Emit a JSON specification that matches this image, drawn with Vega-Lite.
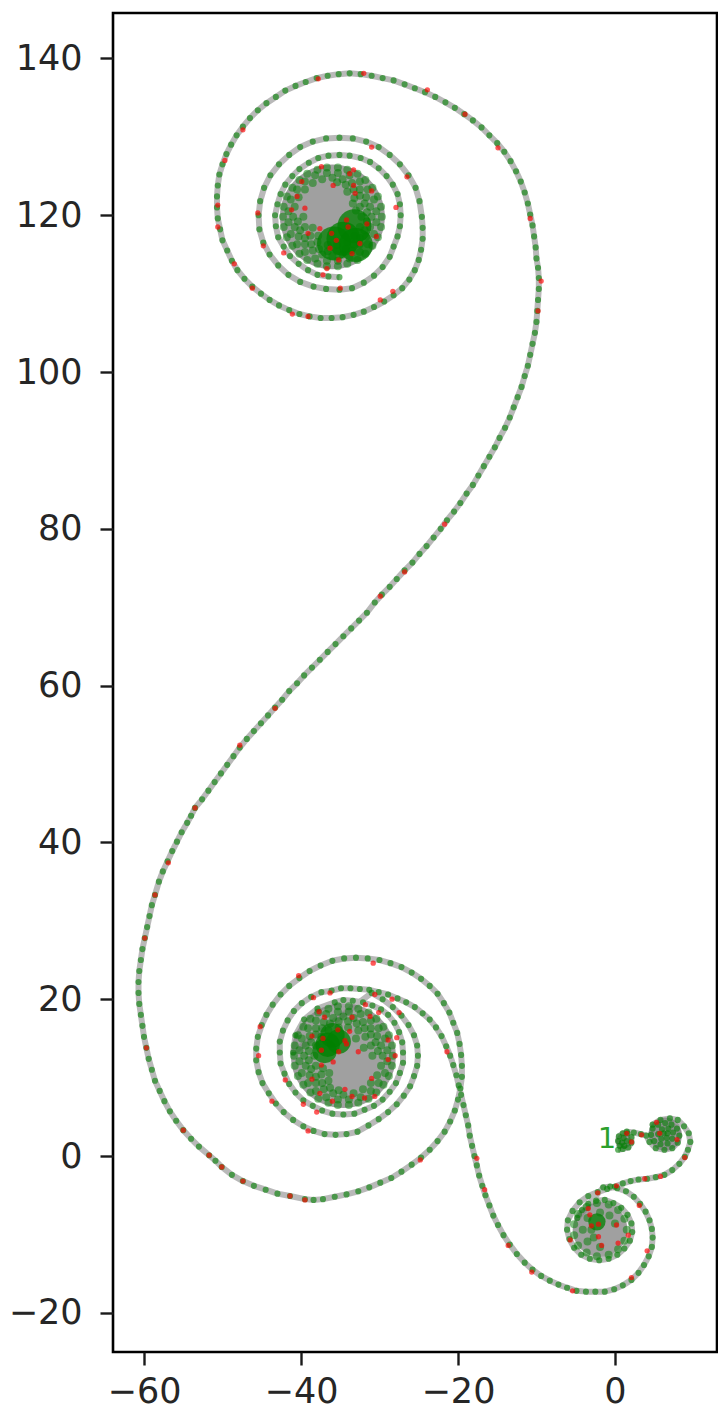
{"$schema":"https://vega.github.io/schema/vega-lite/v6.json","width":604,"height":1339,"autosize":"none","padding":{"left":113,"top":13,"right":1,"bottom":62},"background":"white","config":{"font":"DejaVu Sans","view":{"stroke":"#000000","strokeWidth":2.6},"axis":{"grid":false,"domain":false,"ticks":true,"tickColor":"#1a1a1a","tickWidth":2.4,"tickSize":13,"labelFontSize":35,"labelColor":"#262626","title":null,"labelFont":"DejaVu Sans","labelOverlap":false}},"datasets":{"curve":[{"x":0.4,"y":0.8},{"x":1.0,"y":0.9},{"x":1.7,"y":1.1},{"x":2.1,"y":1.7},{"x":2.1,"y":2.4},{"x":1.6,"y":2.9},{"x":1.0,"y":2.9},{"x":0.5,"y":2.5},{"x":0.4,"y":1.9},{"x":0.6,"y":1.3},{"x":1.2,"y":1.3},{"x":1.5,"y":1.9},{"x":1.1,"y":2.3},{"x":0.9,"y":1.7},{"x":1.5,"y":3.1},{"x":2.4,"y":3.0},{"x":3.3,"y":2.8},{"x":4.0,"y":2.6},{"x":4.4,"y":1.8},{"x":5.2,"y":1.0},{"x":6.3,"y":0.8},{"x":7.3,"y":1.0},{"x":8.0,"y":1.7},{"x":8.2,"y":2.6},{"x":7.9,"y":3.5},{"x":7.2,"y":4.0},{"x":6.4,"y":4.2},{"x":5.5,"y":4.0},{"x":4.8,"y":3.5},{"x":4.6,"y":2.7},{"x":5.0,"y":1.9},{"x":5.8,"y":1.5},{"x":6.7,"y":1.6},{"x":7.3,"y":2.2},{"x":7.4,"y":3.0},{"x":6.8,"y":3.5},{"x":6.0,"y":3.4},{"x":5.5,"y":2.8},{"x":5.9,"y":2.2},{"x":6.6,"y":2.3},{"x":6.7,"y":2.9},{"x":6.2,"y":2.9},{"x":4.8,"y":4.0},{"x":5.8,"y":4.6},{"x":7.0,"y":4.8},{"x":8.0,"y":4.6},{"x":8.8,"y":3.8},{"x":9.4,"y":2.9},{"x":9.6,"y":1.8},{"x":9.3,"y":0.8},{"x":8.9,"y":-0.1},{"x":8.2,"y":-1.0},{"x":7.3,"y":-1.8},{"x":6.3,"y":-2.4},{"x":5.2,"y":-2.7},{"x":4.1,"y":-2.9},{"x":3.0,"y":-3.0},{"x":2.0,"y":-3.2},{"x":1.0,"y":-3.5},{"x":0.0,"y":-3.9},{"x":-1.0,"y":-4.2},{"x":-2.2,"y":-4.6},{"x":-3.4,"y":-5.1},{"x":-4.5,"y":-5.9},{"x":-5.4,"y":-7.0},{"x":-6.0,"y":-8.2},{"x":-6.1,"y":-9.4},{"x":-5.8,"y":-10.6},{"x":-5.2,"y":-11.7},{"x":-4.3,"y":-12.6},{"x":-3.2,"y":-13.1},{"x":-2.0,"y":-13.3},{"x":-0.8,"y":-13.1},{"x":0.3,"y":-12.6},{"x":1.2,"y":-11.8},{"x":1.9,"y":-10.8},{"x":2.2,"y":-9.7},{"x":2.1,"y":-8.6},{"x":1.6,"y":-7.5},{"x":0.8,"y":-6.6},{"x":-0.2,"y":-6.0},{"x":-1.3,"y":-5.6},{"x":-2.4,"y":-5.7},{"x":-3.4,"y":-6.1},{"x":-4.2,"y":-6.9},{"x":-4.8,"y":-7.9},{"x":-1.5,"y":-4.0},{"x":-0.6,"y":-3.9},{"x":0.3,"y":-4.1},{"x":1.4,"y":-4.5},{"x":2.4,"y":-5.2},{"x":3.2,"y":-6.1},{"x":3.9,"y":-7.1},{"x":4.4,"y":-8.2},{"x":4.7,"y":-9.3},{"x":4.8,"y":-10.4},{"x":4.7,"y":-11.6},{"x":4.3,"y":-12.8},{"x":3.7,"y":-13.9},{"x":3.0,"y":-14.9},{"x":2.1,"y":-15.8},{"x":1.0,"y":-16.5},{"x":-0.1,"y":-17.0},{"x":-1.3,"y":-17.3},{"x":-2.5,"y":-17.3},{"x":-3.7,"y":-17.3},{"x":-4.9,"y":-17.2},{"x":-6.1,"y":-16.8},{"x":-7.2,"y":-16.4},{"x":-8.3,"y":-15.9},{"x":-9.4,"y":-15.3},{"x":-10.5,"y":-14.5},{"x":-11.5,"y":-13.6},{"x":-12.5,"y":-12.5},{"x":-13.4,"y":-11.3},{"x":-14.2,"y":-10.1},{"x":-14.9,"y":-8.8},{"x":-15.5,"y":-7.6},{"x":-16.0,"y":-6.3},{"x":-16.5,"y":-5},{"x":-16.9,"y":-3.8},{"x":-17.3,"y":-2.5},{"x":-17.6,"y":-1.2},{"x":-17.9,"y":0},{"x":-18.2,"y":1.3},{"x":-18.5,"y":2.6},{"x":-18.7,"y":3.9},{"x":-19,"y":5.2},{"x":-19.3,"y":6.5},{"x":-19.6,"y":7.8},{"x":-19.9,"y":9},{"x":-20.2,"y":10.3},{"x":-20.6,"y":11.6},{"x":-21,"y":12.8},{"x":-21.5,"y":14},{"x":-22.1,"y":15.3},{"x":-22.8,"y":16.4},{"x":-23.6,"y":17.4},{"x":-24.5,"y":18.2},{"x":-25.5,"y":19},{"x":-26.6,"y":19.6},{"x":-27.7,"y":20.1},{"x":-28.9,"y":20.6},{"x":-30.1,"y":20.9},{"x":-31.3,"y":21.2},{"x":-32.5,"y":21.3},{"x":-33.7,"y":21.4},{"x":-34.9,"y":21.4},{"x":-36.1,"y":21.1},{"x":-37.4,"y":20.9},{"x":-38.7,"y":20.3},{"x":-39.9,"y":19.5},{"x":-40.9,"y":18.5},{"x":-41.7,"y":17.3},{"x":-42.3,"y":16},{"x":-42.7,"y":14.6},{"x":-42.7,"y":13.2},{"x":-42.6,"y":11.8},{"x":-42.1,"y":10.5},{"x":-41.5,"y":9.2},{"x":-40.7,"y":8.1},{"x":-39.7,"y":7.1},{"x":-38.5,"y":6.4},{"x":-37.3,"y":5.8},{"x":-36,"y":5.4},{"x":-34.6,"y":5.3},{"x":-33.2,"y":5.4},{"x":-31.9,"y":5.9},{"x":-30.7,"y":6.4},{"x":-29.6,"y":7.2},{"x":-28.7,"y":8.2},{"x":-27.9,"y":9.3},{"x":-27.4,"y":10.6},{"x":-27,"y":11.9},{"x":-27,"y":13.2},{"x":-27.1,"y":14.5},{"x":-27.5,"y":15.8},{"x":-28.1,"y":17},{"x":-28.9,"y":18},{"x":-29.8,"y":18.7},{"x":-30.9,"y":19.2},{"x":-32.1,"y":19.6},{"x":-33.4,"y":19.8},{"x":-34.6,"y":19.9},{"x":-35.7,"y":19.6},{"x":-37.9,"y":18.8},{"x":-39.6,"y":17.4},{"x":-40.7,"y":15.4},{"x":-41,"y":13.2},{"x":-31,"y":20.8},{"x":-29.6,"y":20.0},{"x":-28.3,"y":19},{"x":-27.2,"y":17.9},{"x":-26.3,"y":16.7},{"x":-25.6,"y":15.4},{"x":-25.2,"y":14.1},{"x":-25.1,"y":12.8},{"x":-25.2,"y":11.5},{"x":-25.6,"y":10.2},{"x":-26.1,"y":8.9},{"x":-26.9,"y":7.7},{"x":-27.8,"y":6.6},{"x":-28.9,"y":5.6},{"x":-30.1,"y":4.7},{"x":-31.4,"y":3.9},{"x":-32.8,"y":3.1},{"x":-34.2,"y":2.8},{"x":-35.6,"y":2.7},{"x":-37,"y":2.8},{"x":-38.4,"y":3.2},{"x":-39.7,"y":3.8},{"x":-41,"y":4.6},{"x":-42.2,"y":5.6},{"x":-43.2,"y":6.7},{"x":-44.1,"y":8},{"x":-44.9,"y":9.3},{"x":-45.4,"y":10.7},{"x":-45.7,"y":12.2},{"x":-45.7,"y":13.7},{"x":-45.5,"y":15.2},{"x":-45,"y":16.7},{"x":-44.4,"y":18},{"x":-43.6,"y":19.3},{"x":-42.6,"y":20.6},{"x":-41.5,"y":21.7},{"x":-40.2,"y":22.7},{"x":-38.9,"y":23.6},{"x":-37.5,"y":24.3},{"x":-36,"y":24.9},{"x":-34.5,"y":25.2},{"x":-33,"y":25.3},{"x":-31.5,"y":25.2},{"x":-30,"y":25},{"x":-28.6,"y":24.6},{"x":-27.2,"y":24.1},{"x":-25.9,"y":23.4},{"x":-24.7,"y":22.6},{"x":-23.6,"y":21.7},{"x":-22.6,"y":20.7},{"x":-21.8,"y":19.5},{"x":-21.1,"y":18.3},{"x":-20.6,"y":17},{"x":-20.1,"y":15.7},{"x":-19.8,"y":14.3},{"x":-19.6,"y":12.9},{"x":-19.5,"y":11.5},{"x":-19.5,"y":10.1},{"x":-19.7,"y":8.6},{"x":-20,"y":7.2},{"x":-20.4,"y":5.8},{"x":-21,"y":4.4},{"x":-21.7,"y":3.1},{"x":-22.6,"y":1.9},{"x":-23.6,"y":0.8},{"x":-24.7,"y":-0.2},{"x":-25.9,"y":-1.1},{"x":-27.2,"y":-2},{"x":-28.5,"y":-2.8},{"x":-29.9,"y":-3.4},{"x":-31.3,"y":-4},{"x":-32.7,"y":-4.5},{"x":-34.2,"y":-4.9},{"x":-35.7,"y":-5.2},{"x":-37.2,"y":-5.5},{"x":-38.4,"y":-5.6},{"x":-39.5,"y":-5.5},{"x":-41.4,"y":-5.1},{"x":-43,"y":-4.8},{"x":-44.5,"y":-4.3},{"x":-46,"y":-3.8},{"x":-47.4,"y":-3.2},{"x":-48.8,"y":-2.4},{"x":-50.1,"y":-1.4},{"x":-50.9,"y":-0.6},{"x":-51.7,"y":0.1},{"x":-53,"y":1.2},{"x":-54,"y":2.2},{"x":-55,"y":3.3},{"x":-55.9,"y":4.5},{"x":-56.7,"y":5.7},{"x":-57.4,"y":7},{"x":-58,"y":8.3},{"x":-58.6,"y":9.6},{"x":-59,"y":11},{"x":-59.4,"y":12.4},{"x":-59.7,"y":13.8},{"x":-60,"y":15.2},{"x":-60.2,"y":16.6},{"x":-60.4,"y":18},{"x":-60.6,"y":19.4},{"x":-60.7,"y":20.8},{"x":-60.7,"y":22.2},{"x":-60.6,"y":23.6},{"x":-60.4,"y":25},{"x":-60.2,"y":26.4},{"x":-59.9,"y":27.8},{"x":-59.6,"y":29.2},{"x":-59.3,"y":30.6},{"x":-59,"y":32},{"x":-58.6,"y":33.3},{"x":-58.1,"y":35},{"x":-57.6,"y":36.3},{"x":-57,"y":37.6},{"x":-56.4,"y":38.9},{"x":-55.8,"y":40.1},{"x":-55.2,"y":41.3},{"x":-54.5,"y":42.5},{"x":-54,"y":43.4},{"x":-53.5,"y":44.4},{"x":-52.6,"y":45.5},{"x":-51.8,"y":46.6},{"x":-51,"y":47.7},{"x":-50.2,"y":48.8},{"x":-49.4,"y":49.9},{"x":-48.6,"y":51},{"x":-47.8,"y":52.1},{"x":-46.9,"y":53.2},{"x":-46,"y":54.2},{"x":-45.1,"y":55.2},{"x":-44.2,"y":56.2},{"x":-43.3,"y":57.2},{"x":-42.4,"y":58.2},{"x":-41.5,"y":59.3},{"x":-40.5,"y":60.3},{"x":-39.6,"y":61.3},{"x":-38.6,"y":62.3},{"x":-37.6,"y":63.3},{"x":-36.6,"y":64.3},{"x":-35.6,"y":65.3},{"x":-34.6,"y":66.3},{"x":-33.6,"y":67.3},{"x":-32.6,"y":68.3},{"x":-31.6,"y":69.3},{"x":-30.6,"y":70.6},{"x":-29.7,"y":71.6},{"x":-28.7,"y":72.6},{"x":-27.8,"y":73.6},{"x":-26.8,"y":74.7},{"x":-25.8,"y":75.7},{"x":-24.9,"y":76.8},{"x":-24,"y":77.8},{"x":-23.1,"y":78.9},{"x":-22.2,"y":80},{"x":-21.4,"y":81.1},{"x":-20.5,"y":82.2},{"x":-19.7,"y":83.3},{"x":-18.9,"y":84.5},{"x":-18.1,"y":85.6},{"x":-17.4,"y":86.8},{"x":-16.7,"y":88},{"x":-16,"y":89.2},{"x":-15.3,"y":90.4},{"x":-14.7,"y":91.6},{"x":-14,"y":92.9},{"x":-13.4,"y":94.2},{"x":-12.9,"y":95.5},{"x":-12.4,"y":96.8},{"x":-11.9,"y":98.1},{"x":-11.5,"y":99.5},{"x":-11.1,"y":100.8},{"x":-10.8,"y":102.2},{"x":-10.5,"y":103.6},{"x":-10.2,"y":105},{"x":-10,"y":106.4},{"x":-9.9,"y":107.8},{"x":-9.8,"y":109.2},{"x":-9.7,"y":110.6},{"x":-9.7,"y":112},{"x":-9.8,"y":113.3},{"x":-10,"y":114.5},{"x":-10.1,"y":115.9},{"x":-10.3,"y":117.3},{"x":-10.5,"y":118.7},{"x":-10.8,"y":120.1},{"x":-11.1,"y":121.5},{"x":-11.5,"y":122.9},{"x":-12,"y":124.3},{"x":-12.6,"y":125.6},{"x":-13.3,"y":126.9},{"x":-14.1,"y":128.1},{"x":-15,"y":129.2},{"x":-16,"y":130.2},{"x":-17,"y":131.2},{"x":-18.1,"y":132.1},{"x":-19.2,"y":132.9},{"x":-20.4,"y":133.7},{"x":-21.6,"y":134.4},{"x":-22.9,"y":135.1},{"x":-24.2,"y":135.7},{"x":-25.5,"y":136.2},{"x":-26.8,"y":136.7},{"x":-28.2,"y":137.2},{"x":-29.6,"y":137.5},{"x":-31,"y":137.8},{"x":-32.4,"y":138},{"x":-33.8,"y":138.1},{"x":-35.2,"y":138},{"x":-36.6,"y":137.8},{"x":-38,"y":137.5},{"x":-39.4,"y":137},{"x":-40.7,"y":136.5},{"x":-42,"y":135.9},{"x":-43.2,"y":135.1},{"x":-44.4,"y":134.3},{"x":-45.5,"y":133.4},{"x":-46.5,"y":132.4},{"x":-47.4,"y":131.3},{"x":-48.2,"y":130.2},{"x":-48.9,"y":129},{"x":-49.5,"y":127.8},{"x":-50,"y":126.5},{"x":-50.4,"y":125.2},{"x":-50.6,"y":123.8},{"x":-50.7,"y":122.4},{"x":-50.7,"y":121},{"x":-50.6,"y":119.6},{"x":-50.3,"y":118.2},{"x":-50,"y":116.8},{"x":-49.4,"y":115.5},{"x":-48.8,"y":114.2},{"x":-48.1,"y":113},{"x":-47.2,"y":111.9},{"x":-46.2,"y":110.9},{"x":-45.1,"y":110},{"x":-44,"y":109.2},{"x":-42.8,"y":108.5},{"x":-41.5,"y":107.9},{"x":-40.2,"y":107.4},{"x":-38.9,"y":107.1},{"x":-37.5,"y":106.9},{"x":-36.1,"y":106.9},{"x":-34.7,"y":107},{"x":-33.3,"y":107.3},{"x":-32,"y":107.7},{"x":-30.7,"y":108.3},{"x":-29.4,"y":109},{"x":-28.2,"y":109.8},{"x":-27.1,"y":110.7},{"x":-26.2,"y":111.8},{"x":-25.5,"y":113},{"x":-25,"y":114.3},{"x":-24.7,"y":115.6},{"x":-24.5,"y":117},{"x":-24.5,"y":118.4},{"x":-24.6,"y":119.8},{"x":-24.9,"y":121.8},{"x":-25.4,"y":123.5},{"x":-26.3,"y":125.1},{"x":-27.4,"y":126.5},{"x":-28.7,"y":127.7},{"x":-30.1,"y":128.7},{"x":-31.7,"y":129.4},{"x":-33.4,"y":129.8},{"x":-35.1,"y":129.9},{"x":-36.8,"y":129.8},{"x":-38.5,"y":129.4},{"x":-40.1,"y":128.7},{"x":-41.5,"y":127.7},{"x":-42.8,"y":126.5},{"x":-43.9,"y":125.1},{"x":-44.7,"y":123.5},{"x":-45.2,"y":121.8},{"x":-45.4,"y":120},{"x":-45.3,"y":118.2},{"x":-44.8,"y":116.5},{"x":-44,"y":115},{"x":-42.9,"y":113.6},{"x":-41.6,"y":112.4},{"x":-40.1,"y":111.5},{"x":-38.4,"y":110.9},{"x":-36.8,"y":110.6},{"x":-35.1,"y":110.5},{"x":-33.5,"y":110.7},{"x":-32,"y":111.4},{"x":-30.7,"y":112.3},{"x":-29.6,"y":113.4},{"x":-28.7,"y":114.7},{"x":-28.2,"y":116},{"x":-27.7,"y":117.3},{"x":-27.4,"y":118.6},{"x":-27.3,"y":120},{"x":-27.4,"y":121.4},{"x":-27.7,"y":122.7},{"x":-28.3,"y":123.9},{"x":-29.1,"y":125},{"x":-30.1,"y":126},{"x":-31.2,"y":126.8},{"x":-32.4,"y":127.3},{"x":-33.8,"y":127.6},{"x":-35.1,"y":127.7},{"x":-36.5,"y":127.6},{"x":-37.8,"y":127.3},{"x":-39,"y":126.7},{"x":-40.2,"y":125.9},{"x":-41.1,"y":125},{"x":-42,"y":123.9},{"x":-42.6,"y":122.7},{"x":-43,"y":121.4},{"x":-43.3,"y":120},{"x":-43.2,"y":118.6},{"x":-42.9,"y":117.2},{"x":-42.2,"y":116},{"x":-41.4,"y":114.8},{"x":-40.3,"y":113.8},{"x":-39.1,"y":113},{"x":-37.9,"y":112.4},{"x":-36.5,"y":112.2},{"x":-35.1,"y":112.1}],"disc":[{"x":-29.7,"y":119.8},{"x":-29.8,"y":121.1},{"x":-30.2,"y":122.4},{"x":-30.9,"y":123.5},{"x":-31.8,"y":124.5},{"x":-32.8,"y":125.3},{"x":-34.1,"y":125.8},{"x":-35.3,"y":126.1},{"x":-36.7,"y":126.1},{"x":-37.9,"y":125.8},{"x":-39.2,"y":125.3},{"x":-40.2,"y":124.5},{"x":-41.1,"y":123.5},{"x":-41.8,"y":122.4},{"x":-42.2,"y":121.1},{"x":-42.3,"y":119.8},{"x":-42.2,"y":118.5},{"x":-41.8,"y":117.2},{"x":-41.1,"y":116.1},{"x":-40.2,"y":115.1},{"x":-39.2,"y":114.3},{"x":-37.9,"y":113.8},{"x":-36.7,"y":113.5},{"x":-35.3,"y":113.5},{"x":-34.1,"y":113.8},{"x":-32.8,"y":114.3},{"x":-31.8,"y":115.1},{"x":-30.9,"y":116.1},{"x":-30.2,"y":117.2},{"x":-29.8,"y":118.5},{"x":-31,"y":119.8},{"x":-31.2,"y":121.1},{"x":-31.7,"y":122.3},{"x":-32.5,"y":123.3},{"x":-33.5,"y":124.1},{"x":-34.7,"y":124.6},{"x":-36,"y":124.8},{"x":-37.3,"y":124.6},{"x":-38.5,"y":124.1},{"x":-39.5,"y":123.3},{"x":-40.3,"y":122.3},{"x":-40.8,"y":121.1},{"x":-41,"y":119.8},{"x":-40.8,"y":118.5},{"x":-40.3,"y":117.3},{"x":-39.5,"y":116.3},{"x":-38.5,"y":115.5},{"x":-37.3,"y":115},{"x":-36,"y":114.8},{"x":-34.7,"y":115},{"x":-33.5,"y":115.5},{"x":-32.5,"y":116.3},{"x":-31.7,"y":117.3},{"x":-31.2,"y":118.5},{"x":-32.3,"y":119.8},{"x":-32.5,"y":121.1},{"x":-33.2,"y":122.2},{"x":-34.1,"y":123},{"x":-39.7,"y":119.8},{"x":-39.5,"y":118.5},{"x":-38.8,"y":117.4},{"x":-37.9,"y":116.6},{"x":-36.6,"y":116.2},{"x":-35.4,"y":116.2},{"x":-34.1,"y":116.6},{"x":-33.2,"y":117.4},{"x":-32.5,"y":118.5},{"x":-30.4,"y":120.5},{"x":-30.7,"y":122},{"x":-31.5,"y":123.3},{"x":-32.5,"y":124.3},{"x":-33.8,"y":125.1},{"x":-35.3,"y":125.4},{"x":-36.7,"y":125.4},{"x":-38.2,"y":125.1},{"x":-39.5,"y":124.3},{"x":-40.5,"y":123.3},{"x":-41.3,"y":122},{"x":-41.6,"y":120.5},{"x":-41.6,"y":119.1},{"x":-41.3,"y":117.6},{"x":-40.5,"y":116.3},{"x":-39.5,"y":115.3},{"x":-38.2,"y":114.5},{"x":-36.7,"y":114.2},{"x":-35.3,"y":114.2},{"x":-33.8,"y":114.5},{"x":-32.5,"y":115.3},{"x":-31.5,"y":116.3},{"x":-30.7,"y":117.6},{"x":-30.4,"y":119.1},{"x":-31.6,"y":120.4},{"x":-31.9,"y":121.5},{"x":-32.5,"y":122.5},{"x":-33.3,"y":123.3},{"x":-34.3,"y":123.9},{"x":-35.4,"y":124.2},{"x":-40.4,"y":119.2},{"x":-40.1,"y":118.1},{"x":-39.5,"y":117.1},{"x":-38.7,"y":116.3},{"x":-37.7,"y":115.7},{"x":-36.6,"y":115.4},{"x":-35.4,"y":115.4},{"x":-34.3,"y":115.7},{"x":-33.3,"y":116.3},{"x":-32.5,"y":117.1},{"x":-31.9,"y":118.1},{"x":-31.6,"y":119.2},{"x":-38.5,"y":118.4},{"x":-37.8,"y":117.4},{"x":-33,"y":120.6},{"x":-33.4,"y":121.5},{"x":-28.3,"y":12.8},{"x":-28.4,"y":14.1},{"x":-28.8,"y":15.4},{"x":-29.5,"y":16.5},{"x":-30.4,"y":17.5},{"x":-31.4,"y":18.3},{"x":-32.7,"y":18.8},{"x":-33.9,"y":19.1},{"x":-35.3,"y":19.1},{"x":-36.5,"y":18.8},{"x":-37.8,"y":18.3},{"x":-38.8,"y":17.5},{"x":-39.7,"y":16.5},{"x":-40.4,"y":15.4},{"x":-40.8,"y":14.1},{"x":-40.9,"y":12.8},{"x":-40.8,"y":11.5},{"x":-40.4,"y":10.2},{"x":-39.7,"y":9.1},{"x":-38.8,"y":8.1},{"x":-37.8,"y":7.3},{"x":-36.5,"y":6.8},{"x":-35.3,"y":6.5},{"x":-33.9,"y":6.5},{"x":-32.7,"y":6.8},{"x":-31.4,"y":7.3},{"x":-30.4,"y":8.1},{"x":-29.5,"y":9.1},{"x":-28.8,"y":10.2},{"x":-28.4,"y":11.5},{"x":-29.6,"y":12.8},{"x":-29.8,"y":14.1},{"x":-30.3,"y":15.3},{"x":-31.1,"y":16.3},{"x":-32.1,"y":17.1},{"x":-33.3,"y":17.6},{"x":-34.6,"y":17.8},{"x":-35.9,"y":17.6},{"x":-37.1,"y":17.1},{"x":-38.1,"y":16.3},{"x":-38.9,"y":15.3},{"x":-39.4,"y":14.1},{"x":-39.6,"y":12.8},{"x":-39.4,"y":11.5},{"x":-38.9,"y":10.3},{"x":-38.1,"y":9.3},{"x":-37.1,"y":8.5},{"x":-35.9,"y":8},{"x":-34.6,"y":7.8},{"x":-33.3,"y":8},{"x":-32.1,"y":8.5},{"x":-31.1,"y":9.3},{"x":-30.3,"y":10.3},{"x":-29.8,"y":11.5},{"x":-30.9,"y":12.8},{"x":-31.1,"y":14.1},{"x":-31.8,"y":15.2},{"x":-32.7,"y":16},{"x":-34,"y":16.4},{"x":-35.2,"y":16.4},{"x":-36.5,"y":16},{"x":-37.4,"y":15.2},{"x":-38.1,"y":14.1},{"x":-38.3,"y":12.8},{"x":-38.1,"y":11.5},{"x":-37.4,"y":10.4},{"x":-36.5,"y":9.6},{"x":-29,"y":13.5},{"x":-29.3,"y":15},{"x":-30.1,"y":16.3},{"x":-31.1,"y":17.3},{"x":-32.4,"y":18.1},{"x":-33.9,"y":18.4},{"x":-35.3,"y":18.4},{"x":-36.8,"y":18.1},{"x":-38.1,"y":17.3},{"x":-39.1,"y":16.3},{"x":-39.9,"y":15},{"x":-40.2,"y":13.5},{"x":-40.2,"y":12.1},{"x":-39.9,"y":10.6},{"x":-39.1,"y":9.3},{"x":-38.1,"y":8.3},{"x":-36.8,"y":7.5},{"x":-35.3,"y":7.2},{"x":-33.9,"y":7.2},{"x":-32.4,"y":7.5},{"x":-31.1,"y":8.3},{"x":-30.1,"y":9.3},{"x":-29.3,"y":10.6},{"x":-29,"y":12.1},{"x":-30.2,"y":13.4},{"x":-30.5,"y":14.5},{"x":-31.1,"y":15.5},{"x":-31.9,"y":16.3},{"x":-32.9,"y":16.9},{"x":-34,"y":17.2},{"x":-35.2,"y":17.2},{"x":-36.3,"y":16.9},{"x":-37.3,"y":16.3},{"x":-38.1,"y":15.5},{"x":-38.7,"y":14.5},{"x":-39,"y":13.4},{"x":-39,"y":12.2},{"x":-38.7,"y":11.1},{"x":-38.1,"y":10.1},{"x":-37.3,"y":9.3},{"x":-36.3,"y":8.7},{"x":-35.2,"y":8.4},{"x":-37.2,"y":11.2},{"x":-36.4,"y":10.6},{"x":-32,"y":13.8},{"x":-33,"y":15},{"x":1.5,"y":-9.4},{"x":1.2,"y":-8},{"x":0.4,"y":-6.9},{"x":-0.8,"y":-6.2},{"x":-2.3,"y":-6},{"x":-3.6,"y":-6.5},{"x":-4.7,"y":-7.4},{"x":-5.2,"y":-8.7},{"x":-5.2,"y":-10.1},{"x":-4.7,"y":-11.4},{"x":-3.6,"y":-12.3},{"x":-2.3,"y":-12.8},{"x":-0.8,"y":-12.6},{"x":0.4,"y":-11.9},{"x":1.2,"y":-10.8},{"x":-1.9,"y":-7.2},{"x":-3.5,"y":-7.9},{"x":-4.1,"y":-9.4},{"x":-3.5,"y":-10.9},{"x":-1.9,"y":-11.6},{"x":-0.7,"y":-7.6},{"x":0.0,"y":-8.6},{"x":-3,"y":-9.4},{"x":-2.7,"y":-10.4}],"red":[{"x":-9.4,"y":111.6},{"x":-9.8,"y":107.8},{"x":-10.8,"y":119.6},{"x":-14.9,"y":128.6},{"x":-19.1,"y":132.9},{"x":-23.9,"y":136},{"x":-32,"y":138.1},{"x":-37.8,"y":137.4},{"x":-47.4,"y":130.9},{"x":-49.7,"y":127},{"x":-50.6,"y":121.3},{"x":-50.6,"y":118.5},{"x":-48.5,"y":113.8},{"x":-46.2,"y":110.7},{"x":-41.1,"y":107.4},{"x":-39.1,"y":107.1},{"x":-29.9,"y":109.2},{"x":-28.3,"y":110.3},{"x":-31,"y":128.7},{"x":-26.5,"y":124.9},{"x":-27.9,"y":121},{"x":-45.5,"y":120.3},{"x":-44.8,"y":116.1},{"x":-42.2,"y":115.2},{"x":-35,"y":110.7},{"x":-33.3,"y":125.8},{"x":-33.8,"y":125.3},{"x":-33.3,"y":123.8},{"x":-33.1,"y":122.8},{"x":-31,"y":123.1},{"x":-30.4,"y":117.3},{"x":-32.5,"y":116.4},{"x":-34.2,"y":119.4},{"x":-34,"y":118.5},{"x":-31.6,"y":118.9},{"x":-37.6,"y":118.3},{"x":-36.1,"y":117.7},{"x":-35.5,"y":116.8},{"x":-39.1,"y":117.7},{"x":-36.3,"y":115.8},{"x":-33.5,"y":115.1},{"x":-35.2,"y":114.3},{"x":-36.7,"y":113.2},{"x":-37.2,"y":112.4},{"x":-39.9,"y":124.3},{"x":-37.4,"y":126.2},{"x":-35.9,"y":123.8},{"x":-40.5,"y":122.4},{"x":-41.2,"y":120.7},{"x":-39.5,"y":120.9},{"x":-21.7,"y":80.6},{"x":-26.8,"y":74.5},{"x":-29.9,"y":71.4},{"x":-43.3,"y":57.1},{"x":-47.8,"y":52.4},{"x":-53.5,"y":44.4},{"x":-56.9,"y":37.4},{"x":-58.6,"y":33.3},{"x":-59.9,"y":27.8},{"x":-59.7,"y":13.8},{"x":-55,"y":3.3},{"x":-51.7,"y":0.1},{"x":-50.1,"y":-1.4},{"x":-47.4,"y":-3.2},{"x":-41.4,"y":-5.1},{"x":-39.5,"y":-5.6},{"x":-24.8,"y":-0.5},{"x":-30.8,"y":24.6},{"x":-40.3,"y":23},{"x":-45.2,"y":16.5},{"x":-45.4,"y":12.8},{"x":-43.7,"y":7},{"x":-39.1,"y":3.2},{"x":-42,"y":9.7},{"x":-39.7,"y":6.6},{"x":-38,"y":5.6},{"x":-38.4,"y":20.2},{"x":-36.3,"y":20.8},{"x":-30.6,"y":20.6},{"x":-28.4,"y":20},{"x":-31.8,"y":19.3},{"x":-30.1,"y":18.3},{"x":-27.5,"y":18.3},{"x":-37.7,"y":18.4},{"x":-37,"y":17.7},{"x":-33.5,"y":17.7},{"x":-31.2,"y":17.8},{"x":-35.3,"y":16.1},{"x":-33.8,"y":15.9},{"x":-38.6,"y":15.3},{"x":-37.2,"y":15},{"x":-34.4,"y":14.7},{"x":-34.2,"y":14.3},{"x":-37.4,"y":13.5},{"x":-35.2,"y":13.3},{"x":-35.9,"y":12},{"x":-37.4,"y":11.6},{"x":-32.7,"y":13.3},{"x":-28.9,"y":14.8},{"x":-27.8,"y":15.1},{"x":-28,"y":12.8},{"x":-28.9,"y":12.3},{"x":-38.6,"y":9.8},{"x":-31,"y":9.9},{"x":-37.6,"y":8},{"x":-34.4,"y":8.5},{"x":-33.5,"y":7.6},{"x":-31.9,"y":7.4},{"x":-30.6,"y":7.6},{"x":-36,"y":7},{"x":-21.4,"y":13.3},{"x":-17.6,"y":-0.3},{"x":-16.6,"y":-4.3},{"x":-13.6,"y":-11.4},{"x":-10.6,"y":-14.8},{"x":1.5,"y":2.9},{"x":2.1,"y":1.8},{"x":3.4,"y":2.7},{"x":5.3,"y":4.3},{"x":5.7,"y":2.9},{"x":7.9,"y":2.1},{"x":8.9,"y":-0.2},{"x":5.8,"y":-2.6},{"x":3.8,"y":-2.9},{"x":0.2,"y":-3.8},{"x":-2.2,"y":-4.7},{"x":3.1,"y":-6.3},{"x":-3.4,"y":-6.7},{"x":-3.2,"y":-7.5},{"x":-2.1,"y":-8.7},{"x":-3,"y":-8.9},{"x":0.2,"y":-8.8},{"x":1.7,"y":-10.1},{"x":0.4,"y":-11.1},{"x":-2.1,"y":-10.3},{"x":-1.7,"y":-11.4},{"x":-5.7,"y":-10.7},{"x":4.1,"y":-12.1},{"x":2.1,"y":-15.5},{"x":-5.4,"y":-17.2}]},"encoding":{"x":{"field":"x","type":"quantitative","scale":{"domain":[-63.95,13],"nice":false,"zero":false},"axis":{"values":[-60,-40,-20,0],"labelPadding":9}},"y":{"field":"y","type":"quantitative","scale":{"domain":[-25,145.8],"nice":false,"zero":false},"axis":{"values":[-20,0,20,40,60,80,100,120,140],"labelPadding":18}}},"layer":[{"data":{"values":[{"x":-36,"y":119.8},{"x":-34.6,"y":12.8}]},"mark":{"type":"point","filled":true,"color":"#808080","opacity":0.75,"size":11000,"strokeWidth":0}},{"data":{"values":[{"x":-1.9,"y":-9.4}]},"mark":{"type":"point","filled":true,"color":"#808080","opacity":0.75,"size":3000,"strokeWidth":0}},{"data":{"values":[{"x":6.4,"y":2.8}]},"mark":{"type":"point","filled":true,"color":"#808080","opacity":0.75,"size":1100,"strokeWidth":0}},{"data":{"values":[{"x":1.1,"y":1.9}]},"mark":{"type":"point","filled":true,"color":"#808080","opacity":0.75,"size":230,"strokeWidth":0}},{"data":{"name":"curve"},"transform":[{"window":[{"op":"row_number","as":"i"}]}],"mark":{"type":"line","color":"#808080","opacity":0.55,"strokeWidth":6,"strokeJoin":"round"},"encoding":{"order":{"field":"i","type":"quantitative"}}},{"data":{"name":"disc"},"mark":{"type":"point","filled":true,"color":"#008000","opacity":0.5,"size":64,"strokeWidth":0}},{"data":{"values":[{"x":-34.6,"y":117},{"x":-33.2,"y":118.6},{"x":-35.8,"y":116.4},{"x":-33,"y":116.2}]},"mark":{"type":"point","filled":true,"color":"#008000","opacity":0.75,"size":1150,"strokeWidth":0}},{"data":{"values":[{"x":-36.6,"y":14.2},{"x":-35.2,"y":14.6},{"x":-36,"y":15.4},{"x":-37,"y":13.4}]},"mark":{"type":"point","filled":true,"color":"#008000","opacity":0.75,"size":600,"strokeWidth":0}},{"data":{"values":[{"x":-2.3,"y":-8.4}]},"mark":{"type":"point","filled":true,"color":"#008000","opacity":0.75,"size":300,"strokeWidth":0}},{"data":{"name":"curve"},"mark":{"type":"point","filled":true,"color":"#008000","opacity":0.6,"size":38,"strokeWidth":0}},{"data":{"name":"red"},"mark":{"type":"point","filled":true,"color":"#ff0000","opacity":0.65,"size":28,"strokeWidth":0}},{"data":{"values":[{"x":-2.2,"y":1,"t":"1"}]},"mark":{"type":"text","align":"left","baseline":"alphabetic","color":"#2ca02c","fontSize":29},"encoding":{"text":{"field":"t"}}}]}
